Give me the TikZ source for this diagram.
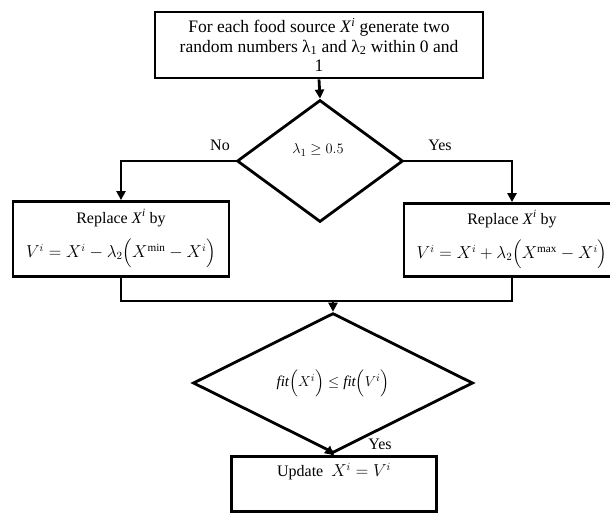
\documentclass[tikz,border=0pt]{standalone}
\usepackage{amsmath}
\usepackage{amssymb}
\usepackage{fontspec}
\setmainfont{Liberation Serif}
\usetikzlibrary{shapes.geometric,arrows.meta}

\begin{document}
\begin{tikzpicture}[x=1pt,y=-1pt,line width=2.8pt]
\tikzstyle{every node}=[font=\fontsize{16}{19}\selectfont]
\tikzstyle{box}=[draw,rectangle,align=center,inner sep=2pt]
\tikzstyle{decision}=[draw,diamond,inner sep=0pt]
\tikzstyle{arr}=[-{Triangle[length=9pt,width=9pt]}]
\useasboundingbox (0,0) rectangle (610,513);

\node[box,minimum width=328pt,minimum height=66pt,font=\fontsize{17.5}{19.5}\selectfont] (gen) at (319,45)
{For each food source \textit{X}\textsuperscript{\textit{i}} generate two\\
random numbers λ\textsubscript{1} and λ\textsubscript{2} within 0 and\\1};
\node[decision,minimum width=166pt,minimum height=122pt] (cond) at (320,161) {};
\node[font=\fontsize{15}{17}\selectfont] (condtxt) at (318,150) {$\lambda_1 \geq 0.5$};
\node (no) at (220,145) {No};
\node (yes) at (440,145) {Yes};

\node[box,minimum width=216pt,minimum height=75pt] (left) at (121,239)
{Replace \textit{X}\textsuperscript{\textit{i}} by\\[10pt]
$V^{i}=X^{i}-\lambda_2\Big(X^{\min}-X^{i}\Big)$};
\node[box,minimum width=216pt,minimum height=73pt] (right) at (512,240)
{Replace \textit{X}\textsuperscript{\textit{i}} by\\[10pt]
$V^{i}=X^{i}+\lambda_2\Big(X^{\max}-X^{i}\Big)$};

\coordinate (join) at (333,301);
\node[decision,minimum width=280pt,minimum height=101pt,font=\fontsize{15}{18}\selectfont] (check) at (333,383)
{$\mathit{fit}\Big(X^{i}\Big)\leq\mathit{fit}\Big(V^{i}\Big)$};
\node (yes2) at (380,444) {Yes};
\node[box,minimum width=205pt,minimum height=55pt,text height=12pt,text depth=27pt,inner ysep=8pt] (update) at (334,484)
{Update ~$X^{i}=V^{i}$};

% connectors
\draw[arr] (gen.south) -- (cond.north);
\draw[arr] (cond.west) -| (left.north);
\draw[arr] (cond.east) -| (right.north);
\draw (left.south) |- (join);
\draw (right.south) |- (join);
\draw[arr] (join) -- (check.north);
\draw[arr] (check.south) -- (update.north);
\end{tikzpicture}
\end{document}
